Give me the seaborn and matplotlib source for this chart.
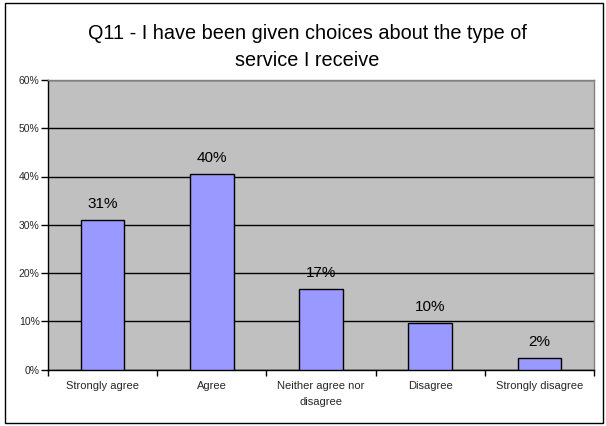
import matplotlib
matplotlib.use("Agg")
import matplotlib.pyplot as plt
import seaborn as sns
import pandas as pd
from matplotlib.patches import Rectangle
from matplotlib.ticker import FixedLocator, PercentFormatter

categories = ["Strongly agree", "Agree", "Neither agree nor\ndisagree", "Disagree", "Strongly disagree"]
values = [30.9, 40.5, 16.7, 9.6, 2.4]
value_labels = ["31%", "40%", "17%", "10%", "2%"]
yticks = [0, 10, 20, 30, 40, 50, 60]

title = "Q11 - I have been given choices about the type of\nservice I receive"

sns.set_theme(style="white")
plt.rcParams['font.family'] = ['Liberation Sans', 'DejaVu Sans']

df = pd.DataFrame({"cat": categories, "val": values})

fig = plt.figure(figsize=(6.06, 4.26), dpi=100)
W, H = 606, 426
ax = fig.add_axes([48 / W, 1 - 369.5 / H, (594 - 48) / W, (369.5 - 80) / H])
ax.set_facecolor("#C0C0C0")

sns.barplot(data=df, x="cat", y="val", color="#9999FF", edgecolor="black",
            linewidth=1.0, width=0.40, saturation=1, ax=ax, zorder=3)

ax.set_ylim(0, 60)
ax.set_xlim(-0.5, 4.5)
ax.set_yticks(yticks)
ax.yaxis.set_major_formatter(PercentFormatter(decimals=0))
ax.grid(axis="y", color="black", linewidth=1.0, zorder=0)
ax.set_axisbelow(True)
ax.set_xlabel("")
ax.set_ylabel("")

ax.tick_params(axis="y", which="major", left=True, length=5, width=1, color="black",
               labelsize=7.5, pad=1)
ax.tick_params(axis="x", which="major", length=0, labelsize=8, pad=8)
for lab in ax.get_xticklabels():
    lab.set_linespacing(1.75)
ax.xaxis.set_minor_locator(FixedLocator([-0.5, 0.5, 1.5, 2.5, 3.5, 4.5]))
ax.tick_params(axis="x", which="minor", bottom=True, length=4, width=1, color="black")

for side in ["left", "bottom"]:
    ax.spines[side].set_color("black")
    ax.spines[side].set_linewidth(1.0)
for side in ["top", "right"]:
    ax.spines[side].set_color("#808080")
    ax.spines[side].set_linewidth(1.0)

for i, (v, lab) in enumerate(zip(values, value_labels)):
    ax.text(i, v + 3.4, lab, ha="center", va="center", fontsize=11, color="black")

fig.text(307 / W, 1 - 47 / H, title, ha="center", va="center", fontsize=14.3,
         color="black", linespacing=1.55)

fig.patches.append(Rectangle((5 / W, 3 / H), (603 - 5) / W, (423 - 3) / H,
                             transform=fig.transFigure, fill=False,
                             edgecolor="black", linewidth=1.0))

fig.savefig("out.png", dpi=100)
